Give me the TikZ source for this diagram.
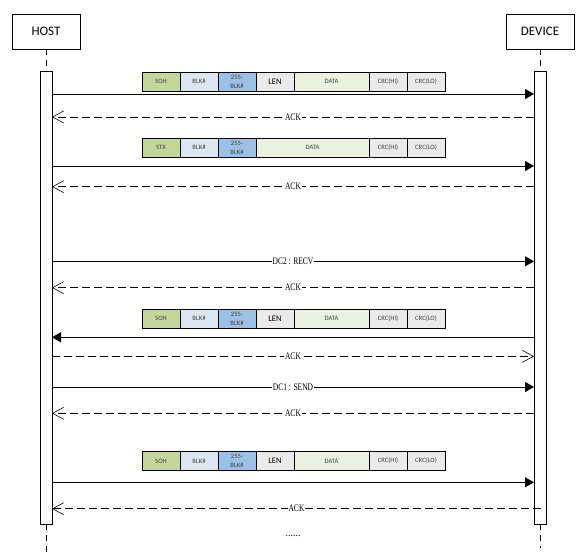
\documentclass[tikz,border=0pt]{standalone}
\usepackage{fontspec}
\setmainfont{Carlito}
\newfontfamily\lblfont[FakeStretch=0.75]{Liberation Serif}
\newfontfamily\dotfont{Liberation Serif}
\usetikzlibrary{arrows.meta}
\definecolor{cgreen}{RGB}{196,215,155}
\definecolor{cltblue}{RGB}{220,230,241}
\definecolor{cblue}{RGB}{155,194,230}
\definecolor{cgray}{RGB}{234,234,234}
\definecolor{cltgreen}{RGB}{235,241,222}
\definecolor{ctext}{RGB}{64,64,64}
\newcommand\pktlen[3]{% #1 y, #2 prefix, #3 first label
  \node[cell,fill=cgreen] (#2a) at (142,#1) {#3};
  \node[cell,fill=cltblue] (#2b) at (#2a.east) {BLK\#};
  \node[cell,fill=cblue] (#2c) at (#2b.east) {255-\\BLK\#};
  \node[cell,fill=cgray,font=\fontsize{8.5}{9}\selectfont,text=black] (#2d) at (#2c.east) {LEN};
  \node[cell,fill=cltgreen,minimum width=75pt] (#2e) at (#2d.east) {DATA};
  \node[cell,fill=cgray] (#2f) at (#2e.east) {CRC(HI)};
  \node[cell,fill=cgray] (#2g) at (#2f.east) {CRC(LO)};
}
\begin{document}
\begin{tikzpicture}[x=1pt,y=-1pt,
  cell/.style={draw, line width=0.8pt, minimum height=19pt, minimum width=38pt,
    inner sep=0pt, outer sep=0pt, font=\fontsize{6.6}{9}\selectfont, text=ctext,
    align=center, anchor=west},
  actor/.style={draw, line width=0.8pt, minimum width=68pt, minimum height=35pt,
    inner sep=0pt, font=\fontsize{13}{14}\selectfont},
  act/.style={draw, fill=white, line width=0.8pt, minimum width=12pt,
    minimum height=453pt, inner sep=0pt, outer sep=0pt, anchor=north},
  life/.style={line width=0.8pt, dash pattern=on 6pt off 5pt},
  sync/.style={line width=0.9pt, -{Triangle[length=9pt,width=10pt]}},
  reply/.style={line width=0.9pt, dash pattern=on 8pt off 4pt,
    -{Straight Barb[length=11pt,width=12pt,line width=0.6pt]}},
  lbl/.style={fill=white, inner sep=0.6pt, font=\lblfont\fontsize{10}{11}\selectfont}
  ]
\useasboundingbox (0,0) rectangle (587,555);

% actors
\node[actor] (hostbox) at (46,31.5) {HOST};
\node[actor] (devbox) at (540,31.5) {DEVICE};

% activation bars
\node[act] (hostact) at (46,71) {};
\node[act] (devact) at (540,71) {};

% lifelines
\coordinate (hostend) at (46,552);
\coordinate (devend) at (540,548);
\draw[life] (hostbox.south) -- (hostact.north);
\draw[life] (devbox.south) -- (devact.north);
\draw[life] (hostact.south) -- (hostend);
\draw[life] (devact.south) -- (devend);

% packets
\pktlen{81.5}{p1}{SOH}
\node[cell,fill=cgreen] (p2a) at (142,147.5) {STX};
\node[cell,fill=cltblue] (p2b) at (p2a.east) {BLK\#};
\node[cell,fill=cblue] (p2c) at (p2b.east) {255-\\BLK\#};
\node[cell,fill=cltgreen,minimum width=113pt] (p2e) at (p2c.east) {DATA};
\node[cell,fill=cgray] (p2f) at (p2e.east) {CRC(HI)};
\node[cell,fill=cgray] (p2g) at (p2f.east) {CRC(LO)};
\pktlen{318.5}{p3}{SOH}
\pktlen{461}{p4}{SOH}

% message end points
\foreach \n/\y in {1/94,2/117,3/166,4/186.7,5/261.3,6/287.7,7/337.3,8/356.3,9/387,10/413.3,11/482.3,12/508.7}{
  \coordinate (h\n) at (52,\y);
  \coordinate (d\n) at (534,\y);
}
\coordinate (d12x) at (541,508.7);

% messages
\draw[sync] (h1) -- (d1);
\draw[reply] (d2) -- node[lbl] (ack1) {ACK} (h2);
\draw[sync] (h3) -- (d3);
\draw[reply] (d4) -- node[lbl] (ack2) {ACK} (h4);
\draw[sync] (h5) -- node[lbl] (dc2) {DC2 : RECV} (d5);
\draw[reply] (d6) -- node[lbl] (ack3) {ACK} (h6);
\draw[sync] (d7) -- (h7);
\draw[reply] (h8) -- node[lbl] (ack4) {ACK} (d8);
\draw[sync] (h9) -- node[lbl] (dc1) {DC1 : SEND} (d9);
\draw[reply] (d10) -- node[lbl] (ack5) {ACK} (h10);
\draw[sync] (h11) -- (d11);
\draw[reply] (d12x) -- node[lbl] (ack6) {ACK} (h12);

\node[font=\dotfont\fontsize{10}{11}\selectfont] (dots) at (293,536.5) {......};
\end{tikzpicture}
\end{document}
